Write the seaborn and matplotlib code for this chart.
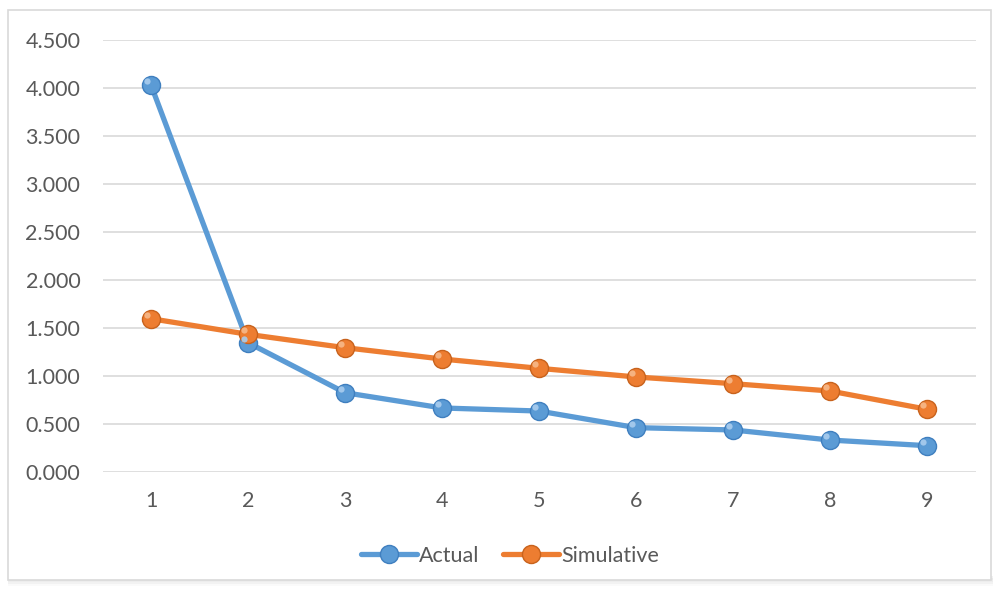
import matplotlib
matplotlib.use("Agg")
import matplotlib.pyplot as plt
from matplotlib.patches import Rectangle
from matplotlib.lines import Line2D
from matplotlib.ticker import FormatStrFormatter, MultipleLocator
import numpy as np
import pandas as pd
import seaborn as sns

# Data
periods = [1, 2, 3, 4, 5, 6, 7, 8, 9]
actual = [4.031, 1.347, 0.826, 0.667, 0.635, 0.462, 0.438, 0.333, 0.274]
simulative = [1.597, 1.434, 1.295, 1.177, 1.080, 0.990, 0.920, 0.844, 0.653]
series_names = ["Actual", "Simulative"]
colors = ["#5B9BD5", "#ED7D31"]
edge_colors = ["#3F7FBF", "#C8621C"]

df = pd.DataFrame({
    "period": periods * 2,
    "value": actual + simulative,
    "series": [series_names[0]] * len(periods) + [series_names[1]] * len(periods),
})

sns.set_theme(style="white")
plt.rcParams["font.family"] = ["Lato", "DejaVu Sans"]

fig = plt.figure(figsize=(9.96, 5.89), dpi=100)
W, H = 996, 589
ax = fig.add_axes([102.5 / W, (H - 472) / H, (975.5 - 102.5) / W, (472 - 40) / H])

# Chart frame with a soft shadow along the bottom
for i, a in enumerate([0.05, 0.04, 0.03, 0.02]):
    fig.patches.append(Rectangle((8 / W, (H - 580 - i * 2) / H), 985 / W, 4 / H,
                                 transform=fig.transFigure, facecolor="#000000",
                                 alpha=a, edgecolor="none", zorder=0))
fig.patches.append(Rectangle((8 / W, (H - 580) / H), 983 / W, 570 / H,
                             transform=fig.transFigure, facecolor="white",
                             edgecolor="#D9D9D9", linewidth=1.2, zorder=1))

sns.lineplot(data=df, x="period", y="value", hue="series", palette=colors,
             linewidth=3.8, marker="o", markersize=13, ax=ax, legend=False,
             zorder=3)

# Marker styling: darker rims and a small highlight for a glossy look
for line, ec in zip(ax.get_lines(), edge_colors):
    line.set_markeredgecolor(ec)
    line.set_markeredgewidth(1.0)
    line.set_solid_capstyle("butt")
for vals, hl in zip([actual, simulative], ["#A9CDEE", "#F7B98A"]):
    ax.plot(np.array(periods) - 0.04, np.array(vals) + 0.04, "o", ms=4.5,
            color=hl, mec="none", zorder=5, alpha=0.9)

ax.set_xlim(0.5, 9.5)
ax.set_ylim(0, 4.5)
ax.yaxis.set_major_locator(MultipleLocator(0.5))
ax.yaxis.set_major_formatter(FormatStrFormatter("%.3f"))
ax.set_xticks(periods)
ax.set_xticklabels([str(p) for p in periods])
ax.grid(axis="y", color="#D9D9D9", linewidth=1.2)
ax.set_axisbelow(True)
for s in ax.spines.values():
    s.set_visible(False)
ax.tick_params(axis="both", length=0, labelsize=15.5, labelcolor="#595959")
ax.tick_params(axis="y", pad=16)
ax.tick_params(axis="x", pad=14)
ax.set_xlabel("")
ax.set_ylabel("")
ax.patch.set_alpha(0)
ax.set_zorder(2)

# Legend
handles = [Line2D([0], [0], color=c, lw=3.8, marker="o", ms=13, mec=ec, mew=1.0)
           for c, ec in zip(colors, edge_colors)]
fig.legend(handles, series_names, loc="center", bbox_to_anchor=(510 / W, (H - 556) / H),
           ncol=2, frameon=False, fontsize=15.5, labelcolor="#595959",
           handlelength=2.6, handletextpad=0.1, columnspacing=1.1)

fig.savefig("out.png", dpi=100)
